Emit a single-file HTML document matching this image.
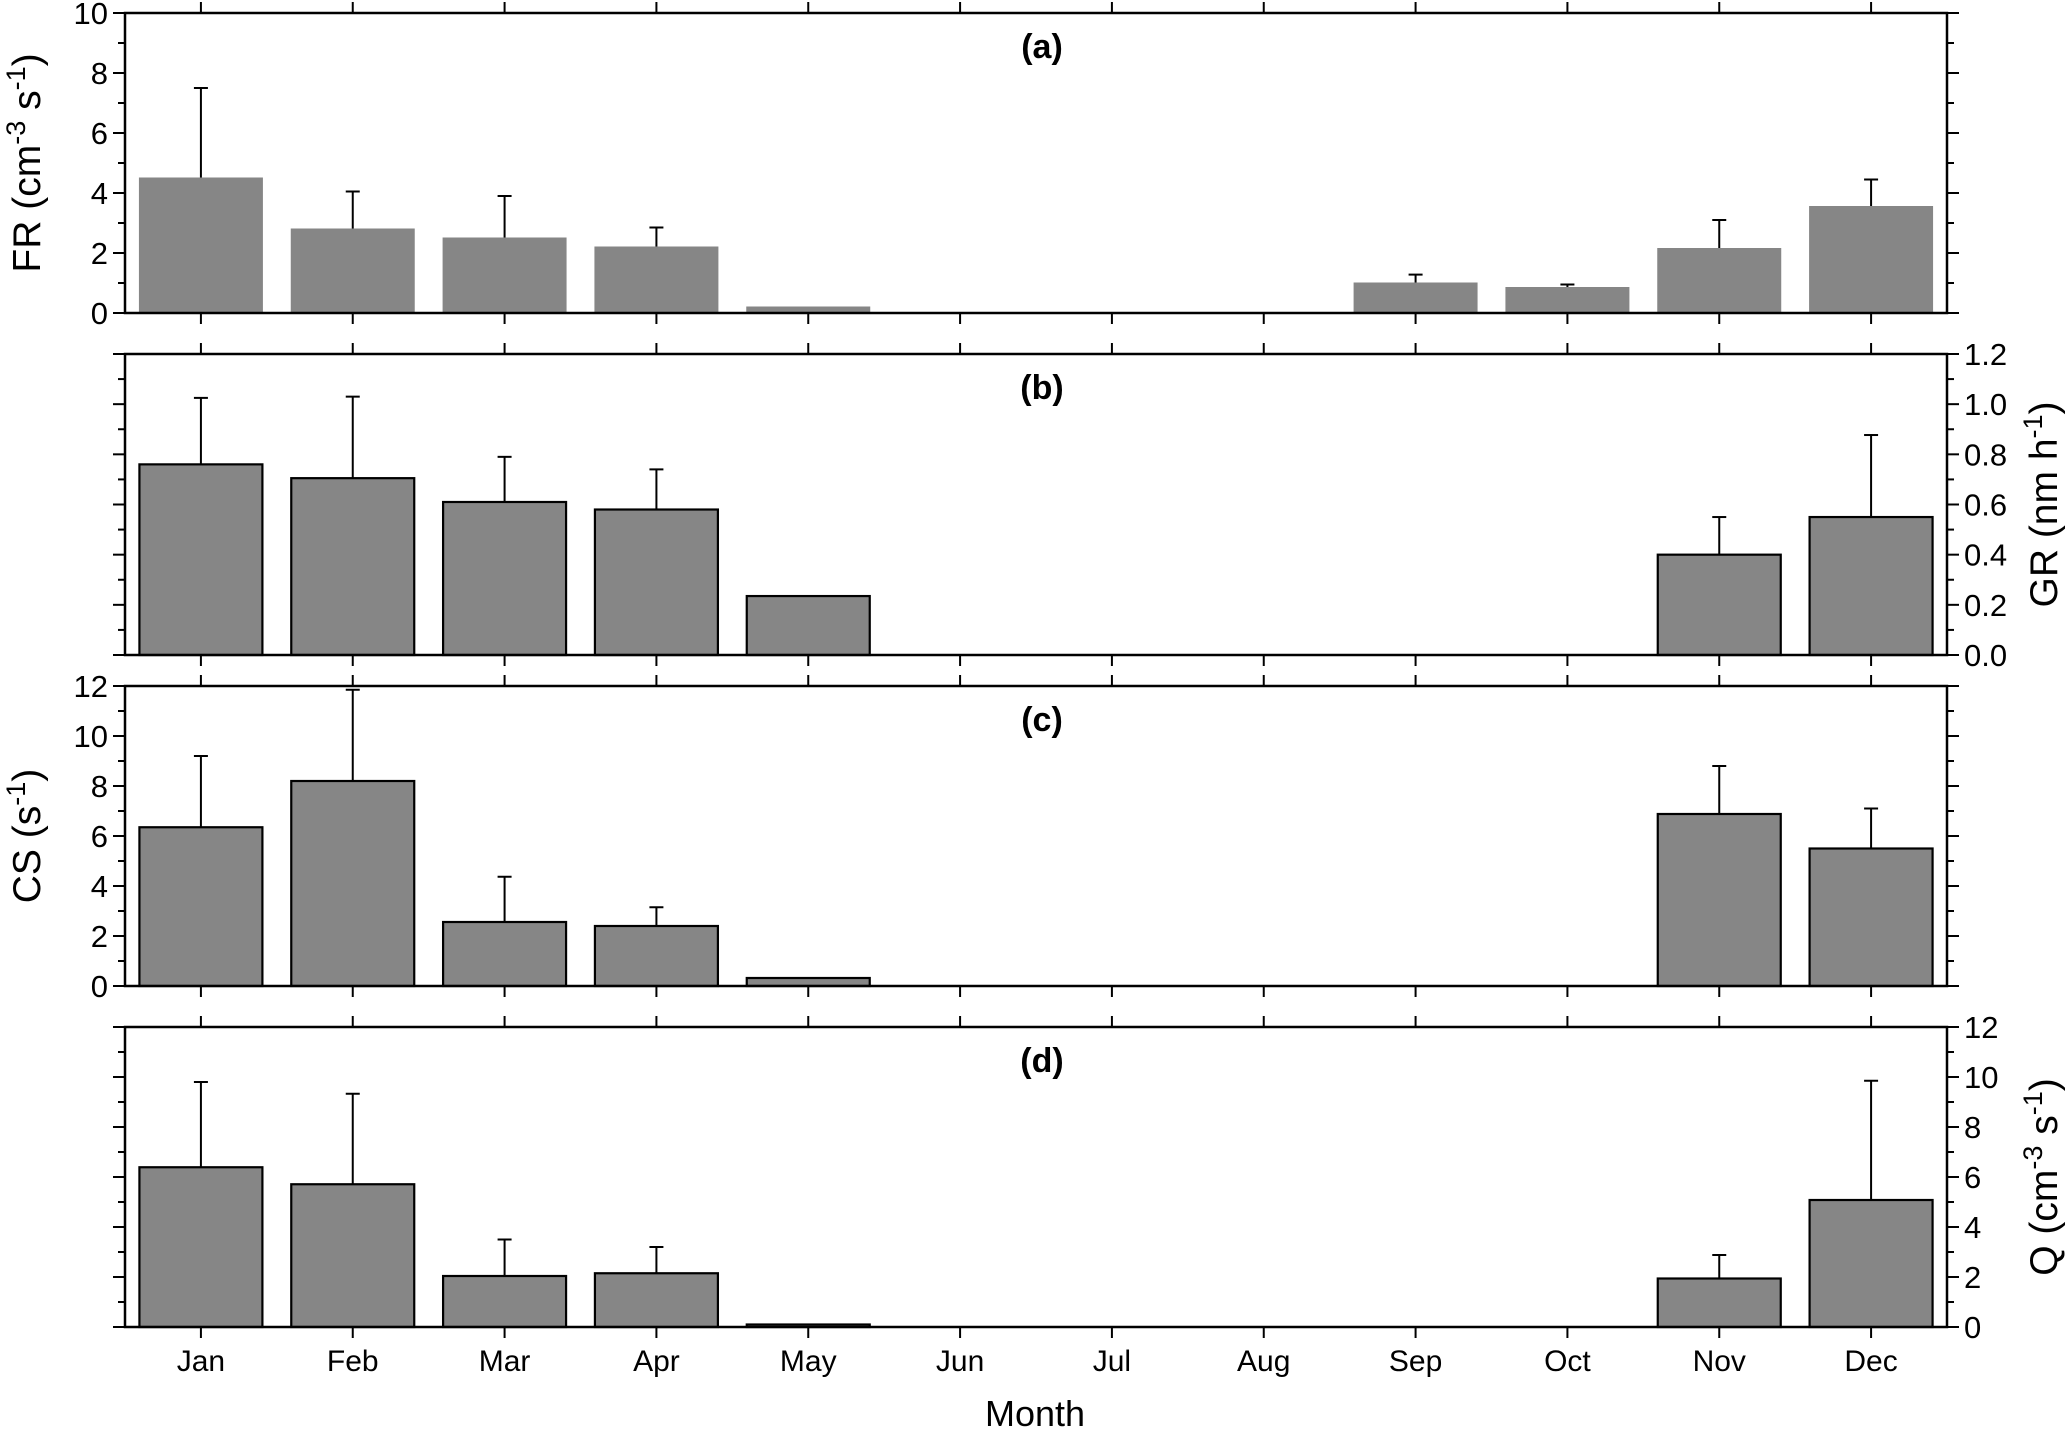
<!DOCTYPE html>
<html><head><meta charset="utf-8"><style>
html,body{margin:0;padding:0;background:#fff}
svg{display:block;font-family:"Liberation Sans",Arial,sans-serif}
</style></head><body>
<svg id="chart" width="2067" height="1429" viewBox="0 0 2067 1429" xmlns="http://www.w3.org/2000/svg"></svg>
<script>
const months = ["Jan","Feb","Mar","Apr","May","Jun","Jul","Aug","Sep","Oct","Nov","Dec"];
const frValues = [4.5,2.8,2.5,2.2,0.2,null,null,null,1.0,0.85,2.15,3.55];
const frErrTop = [7.5,4.05,3.9,2.85,null,null,null,null,1.28,0.95,3.1,4.45];
const grValues = [0.76,0.705,0.61,0.58,0.235,null,null,null,null,null,0.40,0.55];
const grErrTop = [1.025,1.03,0.79,0.74,null,null,null,null,null,null,0.55,0.877];
const csValues = [6.35,8.2,2.56,2.4,0.32,null,null,null,null,null,6.88,5.5];
const csErrTop = [9.2,11.85,4.37,3.15,null,null,null,null,null,null,8.8,7.1];
const qValues = [6.39,5.71,2.04,2.15,0.1,null,null,null,null,null,1.94,5.08];
const qErrTop = [9.8,9.33,3.5,3.2,null,null,null,null,null,null,2.88,9.85];
const frTicks = [0,2,4,6,8,10];
const grTicks = [0,0.2,0.4,0.6,0.8,1.0,1.2];
const csTicks = [0,2,4,6,8,10,12];
const qTicks = [0,2,4,6,8,10,12];

const svg = document.getElementById('chart');
const NS = 'http://www.w3.org/2000/svg';
const L = 125, R = 1947, step = (R - L) / 12;
function mk(tag, attrs, parent){const e=document.createElementNS(NS,tag);for(const k in attrs)e.setAttribute(k,attrs[k]);(parent||svg).appendChild(e);return e;}
function xc(i){return L + step*(i+0.5);}

const panels = [
 {id:'a',top:13,bot:313,max:10,vals:frValues,err:frErrTop,ticks:frTicks,minor:1,side:'left',outline:false,title:'FR',unit:' (cm<tspan baseline-shift="super" font-size="27">-3</tspan> s<tspan baseline-shift="super" font-size="27">-1</tspan>)',fmt:v=>String(v)},
 {id:'b',top:354,bot:655,max:1.2,vals:grValues,err:grErrTop,ticks:grTicks,minor:0.1,side:'right',outline:true,title:'GR',unit:' (nm h<tspan baseline-shift="super" font-size="27">-1</tspan>)',fmt:v=>v.toFixed(1)},
 {id:'c',top:686,bot:986,max:12,vals:csValues,err:csErrTop,ticks:csTicks,minor:1,side:'left',outline:true,title:'CS',unit:' (s<tspan baseline-shift="super" font-size="27">-1</tspan>)',fmt:v=>String(v)},
 {id:'d',top:1027,bot:1327,max:12,vals:qValues,err:qErrTop,ticks:qTicks,minor:1,side:'right',outline:true,title:'Q',unit:' (cm<tspan baseline-shift="super" font-size="27">-3</tspan> s<tspan baseline-shift="super" font-size="27">-1</tspan>)',fmt:v=>String(v)}
];

panels.forEach(p=>{
  const g = mk('g',{});
  
  
  const y = v => p.bot - (v/p.max)*(p.bot-p.top);
  const bw = step*0.81;
  p.vals.forEach((v,i)=>{
    if(v==null) return;
    if(p.err[i]!=null){
      const ey=y(p.err[i]);
      const el=mk('line',{x1:xc(i),x2:xc(i),y1:ey,y2:y(v),stroke:'#000','stroke-width':2},g);
      
      
      mk('line',{x1:xc(i)-7,x2:xc(i)+7,y1:ey,y2:ey,stroke:'#000','stroke-width':2},g);
    }
    const r=mk('rect',{x:xc(i)-bw/2,y:y(v),width:bw,height:p.bot-y(v),fill:'#868686',stroke:p.outline?'#000':'#868686','stroke-width':p.outline?2.2:1},g);
    
    
  });
  const fr=mk('rect',{x:L,y:p.top,width:R-L,height:p.bot-p.top,fill:'none',stroke:'#000','stroke-width':2.5},g);
  
  
  months.forEach((m,i)=>{
    mk('line',{x1:xc(i),x2:xc(i),y1:p.top,y2:p.top-11,stroke:'#000','stroke-width':2},g);
    mk('line',{x1:xc(i),x2:xc(i),y1:p.bot,y2:p.bot+11,stroke:'#000','stroke-width':2},g);
  });
  for(let v=0; v<=p.max+1e-9; v+=p.minor){
    const vv=Math.round(v*1000)/1000;
    const major = p.ticks.some(t=>Math.abs(t-vv)<1e-6);
    const len = major?12:7;
    mk('line',{x1:L,x2:L-len,y1:y(vv),y2:y(vv),stroke:'#000','stroke-width':2},g);
    mk('line',{x1:R,x2:R+len,y1:y(vv),y2:y(vv),stroke:'#000','stroke-width':2},g);
  }
  p.ticks.forEach(t=>{
    const tx = p.side==='left' ? mk('text',{x:L-17,y:y(t)+11,'text-anchor':'end','font-size':31},g)
                               : mk('text',{x:R+17,y:y(t)+11,'text-anchor':'start','font-size':31},g);
    tx.textContent = p.fmt(t);
    
    
  });
  const cy=(p.top+p.bot)/2;
  let tt;
  if(p.side==='left') tt=mk('text',{x:0,y:0,transform:`translate(40 ${cy}) rotate(-90)`,'text-anchor':'middle','font-size':39},g);
  else tt=mk('text',{x:0,y:0,transform:`translate(2057 ${cy}) rotate(-90)`,'text-anchor':'middle','font-size':39},g);
  tt.innerHTML = p.title + p.unit;
  
  
  const pl=mk('text',{x:1042,y:p.top+45,'text-anchor':'middle','font-size':34,'font-weight':'bold'},g);
  pl.textContent='('+p.id+')';
  
  
});
months.forEach((m,i)=>{
  const t=mk('text',{x:xc(i),y:1371,'text-anchor':'middle','font-size':30});
  t.textContent=m;
  
  
});
const xt=mk('text',{x:1035,y:1426,'text-anchor':'middle','font-size':36});
xt.textContent='Month';


</script>
</body></html>
